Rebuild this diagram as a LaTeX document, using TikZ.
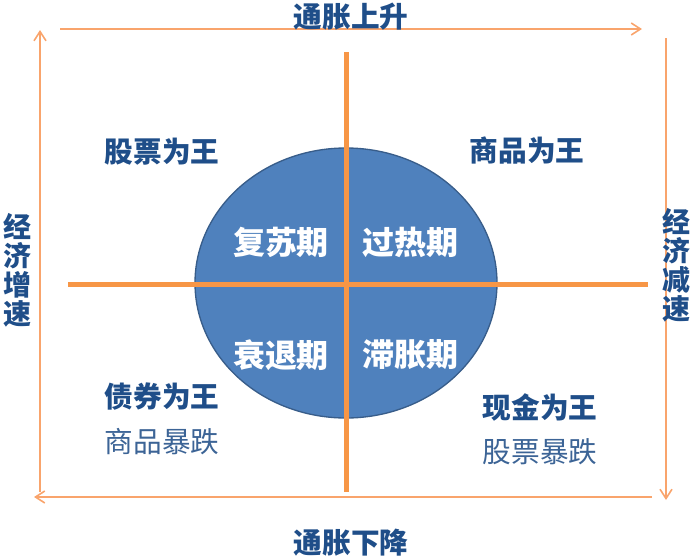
\documentclass[tikz,border=0pt]{standalone}
\usepackage{fontspec}
\setmainfont{Noto Sans CJK SC}
\usepackage{tikz}
\usetikzlibrary{arrows.meta, shapes.geometric, positioning}

\definecolor{navy}{HTML}{1F4E89}
\definecolor{steel}{HTML}{3C6496}
\definecolor{cycfill}{HTML}{4F81BD}
\definecolor{cycedge}{HTML}{385D8A}
\definecolor{crossor}{HTML}{F79646}
\definecolor{arrowor}{HTML}{F9A46C}

\begin{document}
\begin{tikzpicture}[x=0.75pt, y=-0.75pt,
    king/.style={text=navy, font=\fontsize{21.5}{22}\selectfont\bfseries, inner sep=0pt},
    crash/.style={text=steel, font=\fontsize{21.5}{22}\selectfont, inner sep=0pt},
    phase/.style={text=white, font=\fontsize{24}{26}\selectfont\bfseries, inner sep=0pt},
    side/.style={text=navy, font=\fontsize{21}{21.75}\selectfont\bfseries, align=center, inner sep=0pt},
    axis/.style={draw=arrowor, line width=1.2pt, -{Straight Barb[length=7pt, width=9pt]}},
    cross/.style={draw=crossor, line width=3.75pt}]
                        \useasboundingbox (0, 0) rectangle (694, 558);

                        % cycle
                        \node[ellipse, draw=cycedge, line width=1pt, fill=cycfill,
                            minimum width=226.5pt, minimum height=202.5pt, inner sep=0pt] (cyc) at (346, 283) {};

                        \coordinate (hl) at (68, 284);
                        \coordinate (hr) at (648, 284);
                        \coordinate (vt) at (346, 52);
                        \coordinate (vb) at (346, 492);

                        \draw[cross] (hl) -- (hr);
                        \draw[cross] (vt) -- (vb);

                        % outer frame
                        \coordinate (lb) at (40, 492);
                        \coordinate (lt) at (40, 30);
                        \coordinate (tl) at (60, 29);
                        \coordinate (tr) at (642, 29);
                        \coordinate (rt) at (666, 38);
                        \coordinate (rb) at (666, 500);
                        \coordinate (br) at (652, 497);
                        \coordinate (bl) at (34, 497);

                        \draw
                        (lb) edge[axis] (lt)
                        (tl) edge[axis] (tr)
                        (rt) edge[axis] (rb)
                        (br) edge[axis] (bl);

                        \node[king] (up) at (351, 17) {通胀上升};
                        \node[king] (down) at (351, 543) {通胀下降};
                        \node[side] (grow) at (17, 270) {经\\济\\增\\速};
                        \node[side] (slow) at (676, 265) {经\\济\\减\\速};

                        \node[phase] (rec) at (281, 242) {复苏期};
                        \node[phase] (heat) at (410, 242) {过热期};
                        \node[phase] (dep) at (281, 355) {衰退期};
                        \node[phase] (stag) at (410, 355) {滞胀期};

                        \node[king] (stock) at (162, 152) {股票为王};
                        \node[king] (goods) at (527, 150) {商品为王};
                        \node[king] (bond) at (162, 397) {债券为王};
                        \node[crash] (gcrash) at (162, 442) {商品暴跌};
                        \node[king] (cash) at (540, 407) {现金为王};
                        \node[crash] (scrash) at (540, 452) {股票暴跌};
                    \end{tikzpicture}
\end{document}
